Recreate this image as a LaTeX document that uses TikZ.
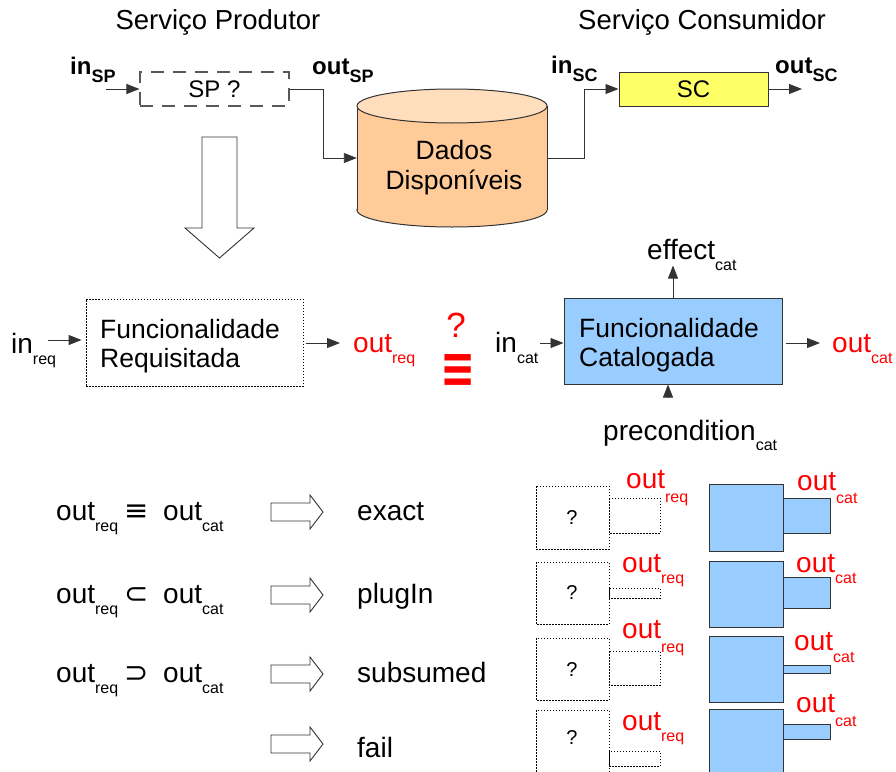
\documentclass[tikz,border=0pt]{standalone}
\usepackage{fontspec}
\setmainfont{Liberation Sans}
\newfontfamily\symfont{DejaVu Sans}
\usetikzlibrary{arrows.meta}
\definecolor{cylbody}{HTML}{FFCC99}
\definecolor{cyltop}{HTML}{FFDEBD}
\definecolor{scyellow}{HTML}{FFFF66}
\definecolor{catblue}{HTML}{99CCFF}
\definecolor{edgegray}{HTML}{333333}
\newcommand\myfs[1]{\fontsize{#1}{#1}\selectfont}
\newcommand\subx[2][11]{\raisebox{-#1pt}{\myfs{16}#2}}
\newcommand\subb[1]{\raisebox{-8pt}{\myfs{18}\bfseries #1}}
\tikzset{
  lbl/.style={inner sep=0pt, anchor=base west, font=\myfs{28}},
  boxtxt/.style={inner sep=0pt, anchor=base west, font=\myfs{26.5}},
  arr/.style={line width=0.9pt, draw=edgegray, -{Triangle[length=13pt,width=10pt]}},
  spbox/.style={draw=black!65, line width=1.1pt, dash pattern=on 13pt off 9pt, minimum width=149pt, minimum height=34pt, inner sep=0pt, font=\myfs{24}},
  scbox/.style={draw=edgegray, line width=1pt, fill=scyellow, minimum width=149pt, minimum height=34pt, inner sep=0pt, font=\myfs{24}},
  reqbox/.style={draw=black, line width=0.9pt, dash pattern=on 1.5pt off 1.5pt, minimum width=217pt, minimum height=87pt, inner sep=0pt},
  catbox/.style={draw=edgegray, line width=1pt, fill=catblue, minimum width=218pt, minimum height=86pt, inner sep=0pt},
  dotbox/.style={draw=black, line width=0.9pt, dash pattern=on 1.5pt off 1.5pt},
  bluebox/.style={draw=edgegray, line width=1pt, fill=catblue},
  redlbl/.style={lbl, text=red},
  qmark/.style={inner sep=0pt, font=\myfs{20}},
  relsym/.style={inner sep=0pt, anchor=base, font=\symfont\myfs{29}},
  hollowarrow/.pic={\draw[line width=0.9pt, draw=black!80, fill=white] (0,-9) -- (39,-9) -- (39,-17) -- (52,0) -- (39,17) -- (39,9) -- (0,9) -- cycle;}
}
\begin{document}
\begin{tikzpicture}[x=1pt,y=-1pt]
\useasboundingbox (0,0) rectangle (896,771);
\clip (0,0) rectangle (896,771);
% titles
\node[lbl, anchor=base, font=\myfs{27.5}] (t1) at (218,29) {Serviço Produtor};
\node[lbl, anchor=base, font=\myfs{27.5}] (t2) at (702,29) {Serviço Consumidor};
% producer
\node[spbox] (sp) at (214.5,89) {SP ?};
\coordinate (spin) at (106,89);
\draw[arr] (spin) -- (sp.west);
\node[lbl, font=\myfs{24}\bfseries] (insp) at (70,74) {in\subb{SP}};
\node[lbl, font=\myfs{24}\bfseries] (outsp) at (312,74) {out\subb{SP}};
% cylinder
\fill[cylbody, draw=edgegray, line width=1pt] (452,210) ellipse [x radius=95, y radius=17];
\fill[cylbody] (357,106) rectangle (547,210);
\draw[edgegray, line width=1pt] (357,106) -- (357,210) (547,106) -- (547,210);
\draw[edgegray, line width=1pt, fill=cyltop] (452,106) ellipse [x radius=95, y radius=17];
\node[minimum width=190pt, minimum height=104pt, inner sep=0pt] (cyl) at (452,158) {};
\node[boxtxt, anchor=base] (cyl1) at (454,159) {Dados};
\node[boxtxt, anchor=base] (cyl2) at (454,189) {Disponíveis};
\draw[arr] (sp.east) -- ++(34,0) |- (cyl.west);
% consumer
\node[scbox] (sc) at (693.5,89) {SC};
\draw[arr] (cyl.east) -- ++(37,0) |- (sc.west);
\node[lbl, font=\myfs{24}\bfseries] (insc) at (551,73) {in\subb{SC}};
\node[lbl, font=\myfs{24}\bfseries] (outsc) at (775,73) {out\subb{SC}};
\coordinate (scout) at (802,89);
\draw[arr] (sc.east) -- (scout);
% big down arrow
\draw[line width=0.9pt, draw=black!80, fill=white] (202,137) -- (237,137) -- (237,228) -- (254,228) -- (219.5,258) -- (185,228) -- (202,228) -- cycle;
% requested functionality
\node[reqbox] (req) at (194.5,342.5) {};
\node[boxtxt] (req1) at (100,338) {Funcionalidade};
\node[boxtxt] (req2) at (100,367) {Requisitada};
\node[lbl] (inreq) at (11,353) {in\subx{req}};
\coordinate (a1s) at (48,340);
\draw[arr] (a1s) -- ([xshift=-4pt]a1s -| req.west);
\node[redlbl] (outreq) at (353,352) {out\subx{req}};
\coordinate (a2s) at (306,343);
\draw[arr] (a2s) -- ([xshift=-13pt]a2s -| outreq.west);
\node[inner sep=0pt, anchor=base, text=red, font=\myfs{35}] (qm) at (456,337) {?};
\node[inner sep=0pt, text=red] (eqv) at (458,371) {\symfont\bfseries\myfs{40}\scalebox{1.05}[1.4]{≡}};
% catalogued functionality
\node[catbox] (cat) at (673,341) {};
\node[boxtxt] (cat1) at (579,337) {Funcionalidade};
\node[boxtxt] (cat2) at (579,366) {Catalogada};
\node[lbl] (effect) at (647,259) {effect\subx{cat}};
\draw[arr] (cat.north) -- ++(0,-32);
\node[lbl] (precond) at (603,440) {precondition\subx[10]{cat}};
\coordinate (pcs) at (668,398);
\draw[arr] (pcs) -- (pcs |- cat.south);
\node[lbl] (incat) at (495,352) {in\subx{cat}};
\coordinate (a3s) at (540,343);
\draw[arr] (a3s) -- (a3s -| cat.west);
\node[redlbl] (outcat) at (832,352) {out\subx{cat}};
\coordinate (a4s) at (786,343);
\draw[arr] (a4s) -- ([xshift=-12pt]a4s -| outcat.west);
% relations
\node[lbl] (r1a) at (56,520) {out\subx{req}};
\node[relsym] (r1s) at (137,520) {≡};
\node[lbl] (r1b) at (163,520) {out\subx{cat}};
\node[lbl] (r2a) at (56,603) {out\subx{req}};
\node[relsym] (r2s) at (137,603) {⊂};
\node[lbl] (r2b) at (163,603) {out\subx{cat}};
\node[lbl] (r3a) at (56,682) {out\subx{req}};
\node[relsym] (r3s) at (137,682) {⊃};
\node[lbl] (r3b) at (163,682) {out\subx{cat}};
\pic at (271,512) {hollowarrow};
\pic at (271,595) {hollowarrow};
\pic at (271,674) {hollowarrow};
\pic at (271,744) {hollowarrow};
\node[lbl] (m1) at (357,520) {exact};
\node[lbl] (m2) at (357,603) {plugIn};
\node[lbl] (m3) at (357,682) {subsumed};
\node[lbl] (m4) at (357,757) {fail};
% panels row 1
\draw[dotbox] (536,486) rectangle (609,549);
\draw[dotbox] (609,498) rectangle (660,533);
\node[qmark] (q1) at (572,518) {?};
\node[redlbl] (p1r) at (626,488) {out\subx[14]{req}};
\draw[bluebox] (709,484) rectangle (783,551);
\draw[bluebox] (783,498) rectangle (830,533);
\node[redlbl] (p1c) at (797,490) {out\subx[13]{cat}};
% row 2
\draw[dotbox] (536,562) rectangle (609,624);
\draw[dotbox] (609,588) rectangle (660,598);
\node[qmark] (q2) at (572,593) {?};
\node[redlbl] (p2r) at (622,572) {out\subx[11]{req}};
\draw[bluebox] (709,561) rectangle (783,627);
\draw[bluebox] (783,577) rectangle (830,608);
\node[redlbl] (p2c) at (796,572) {out\subx[11]{cat}};
% row 3
\draw[dotbox] (536,638) rectangle (609,700);
\draw[dotbox] (609,651) rectangle (660,685);
\node[qmark] (q3) at (572,670) {?};
\node[redlbl] (p3r) at (622,638) {out\subx[14]{req}};
\draw[bluebox] (709,636) rectangle (783,702);
\draw[bluebox] (783,665) rectangle (830,673);
\node[redlbl] (p3c) at (794,650) {out\subx[12]{cat}};
% row 4
\draw[dotbox] (536,710) rectangle (609,790);
\draw[dotbox] (609,751) rectangle (660,766);
\node[qmark] (q4) at (572,738) {?};
\node[redlbl] (p4r) at (622,730) {out\subx[11]{req}};
\draw[bluebox] (709,709) rectangle (783,790);
\draw[bluebox] (783,724) rectangle (830,739);
\node[redlbl] (p4c) at (796,712) {out\subx[14]{cat}};
\end{tikzpicture}
\end{document}
